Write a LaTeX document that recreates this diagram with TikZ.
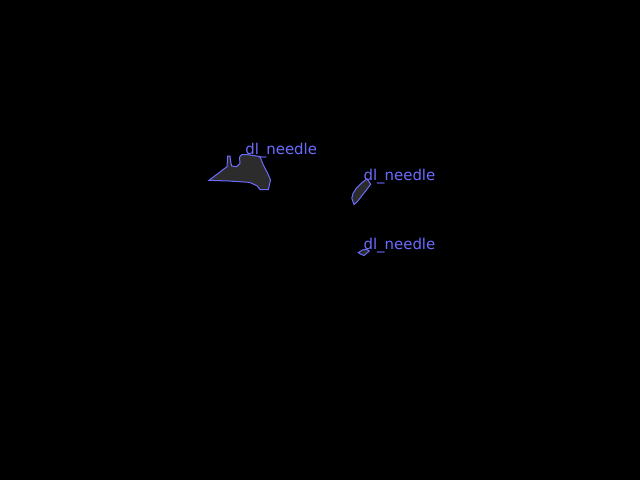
\documentclass[tikz,border=0pt]{standalone}
\usepackage{fontspec}
\setmainfont{DejaVu Sans}
\definecolor{lblue}{RGB}{108,108,255}
\definecolor{regfill}{RGB}{44,44,44}
\tikzset{
  region/.style={draw=lblue, fill=regfill, line width=0.75pt, line join=miter},
  lbl/.style={text=lblue, anchor=base west, inner sep=0pt, font=\fontsize{11.2pt}{13pt}\selectfont}
}
\begin{document}
\begin{tikzpicture}[x=0.75pt, y=-0.75pt]
\fill[black] (0,0) rectangle (640,480);
\useasboundingbox (0,0) rectangle (640,480);
% region 1
\draw[region] (209,180.3) -- (229,181) -- (249,182.3) -- (251.7,183.3) -- (257.3,186) -- (260,189.5)
  -- (268.3,189.5) -- (269,186.7) -- (270.5,180) -- (267.7,173.3) -- (263.3,165) -- (260,156.5)
  -- (246.7,154.5) -- (241.7,154.5) -- (239.5,157.3) -- (240,163.3) -- (236.7,166.7) -- (231.7,166)
  -- (231,163.3) -- (230,156) -- (227.7,156) -- (227,166.7) -- cycle;
% region 2
\draw[region] (367,178.8) -- (370.7,184.3) -- (363,194.3) -- (357.3,201.7) -- (354,204.5)
  -- (351.8,198.3) -- (353,193.3) -- (356.3,188.3) -- (361.3,183.3) -- cycle;
% region 3
\draw[region] (358.3,252.7) -- (362.3,250) -- (366.3,249.3) -- (369.3,251) -- (364,255.5) -- (361,254.3) -- cycle;
% labels
\node[lbl] (l1) at (245,154.5) {dl\_needle};
\node[lbl] (l2) at (363.3,180.4) {dl\_needle};
\node[lbl] (l3) at (363.3,249.4) {dl\_needle};
\end{tikzpicture}
\end{document}
